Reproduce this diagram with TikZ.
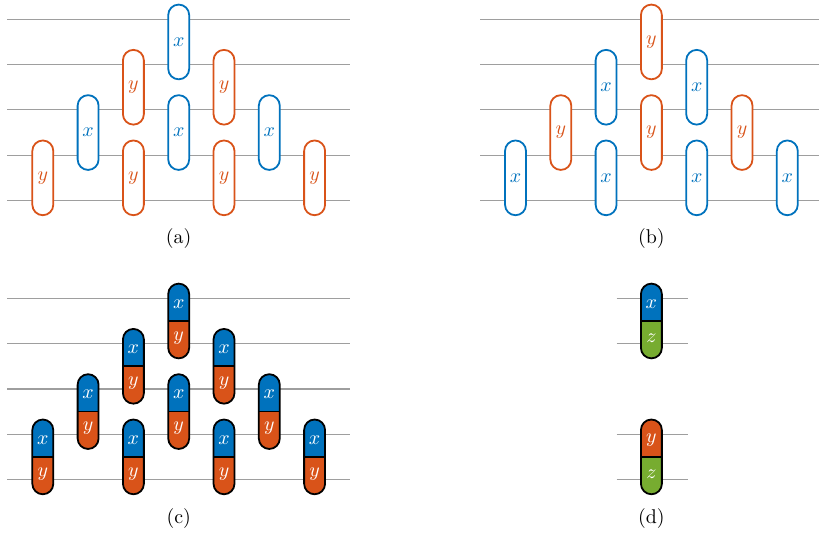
\documentclass[tikz,border=0pt]{standalone}
\usepackage{amsmath}
\usepackage{amssymb}
\usepackage{tikz}
\usetikzlibrary{positioning}
\usepackage{color}
\definecolor{mblue}{rgb}{0, 0.447, 0.741}
\definecolor{morange}{rgb}{0.851, 0.325, 0.098}
\definecolor{mgreen}{rgb}{0.467, 0.675, 0.188}
\definecolor{wiregray}{rgb}{0.62, 0.62, 0.62}

\begin{document}
\begin{tikzpicture}[x=0.8cm, y=0.8cm,
	wire/.style={wiregray, line width=0.6pt},
	gate/.style={rectangle, rounded corners=0.185cm, minimum width=0.37cm, minimum height=1.32cm, inner sep=0pt, line width=0.9pt, fill=white},
	twogate/.style 2 args={gate, draw=black, path picture={
		\fill[#1, sharp corners] (path picture bounding box.north west) rectangle (path picture bounding box.east);
		\fill[#2, sharp corners] (path picture bounding box.west) rectangle (path picture bounding box.south east);
		\draw[black, sharp corners, line width=0.9pt] (path picture bounding box.west) -- (path picture bounding box.east);}},
	half/.style={text=white, inner sep=0pt}]
	\useasboundingbox (-0.945,0.426) rectangle (17.135,-11.34);
		% wires
		\foreach \k in {0,...,4}{
			\draw [wire] (-0.78,-\k)--(6.78,-\k);
			\draw [wire] (10.435-0.78,-\k)--(10.435+6.78,-\k);
			\draw [wire] (-0.78,-6.16-\k)--(6.78,-6.16-\k);
		}
		\foreach \k in {0,1,3,4}{
			\draw [wire] (13.435-0.77,-6.16-\k)--(13.435+0.8,-6.16-\k);
		}
		% gates
		\foreach \i/\k in {0/3,1/2,2/1,2/3,3/0,3/2,4/1,4/3,5/2,6/3}{
			\ifodd\i
				\node [gate, draw=mblue, text=mblue] (a\i\k) at (\i,-\k-0.5) {$x$};
				\node [gate, draw=morange, text=morange] (b\i\k) at (10.435+\i,-\k-0.5) {$y$};
			\else
				\node [gate, draw=morange, text=morange] (a\i\k) at (\i,-\k-0.5) {$y$};
				\node [gate, draw=mblue, text=mblue] (b\i\k) at (10.435+\i,-\k-0.5) {$x$};
			\fi
			\node [twogate={mblue}{morange}] (c\i\k) at (\i,-6.16-\k-0.5) {};
			\node [half] (cx\i\k) at ([yshift=0.3cm]c\i\k.center) {$x$};
			\node [half] (cy\i\k) at ([yshift=-0.3cm]c\i\k.center) {$y$};
		}
		\node [twogate={mblue}{mgreen}] (dxz) at (13.435,-6.66) {};
		\node [half] (dx) at ([yshift=0.3cm]dxz.center) {$x$};
		\node [half] (dz1) at ([yshift=-0.3cm]dxz.center) {$z$};
		\node [twogate={morange}{mgreen}] (dyz) at (13.435,-9.66) {};
		\node [half] (dy) at ([yshift=0.3cm]dyz.center) {$y$};
		\node [half] (dz2) at ([yshift=-0.3cm]dyz.center) {$z$};
		% captions
		\node (capa) at (3,-4.85) {(a)};
		\node (capb) at (13.435,-4.85) {(b)};
		\node (capc) at (3,-11.01) {(c)};
		\node (capd) at (13.435,-11.01) {(d)};
	\end{tikzpicture}
\end{document}
